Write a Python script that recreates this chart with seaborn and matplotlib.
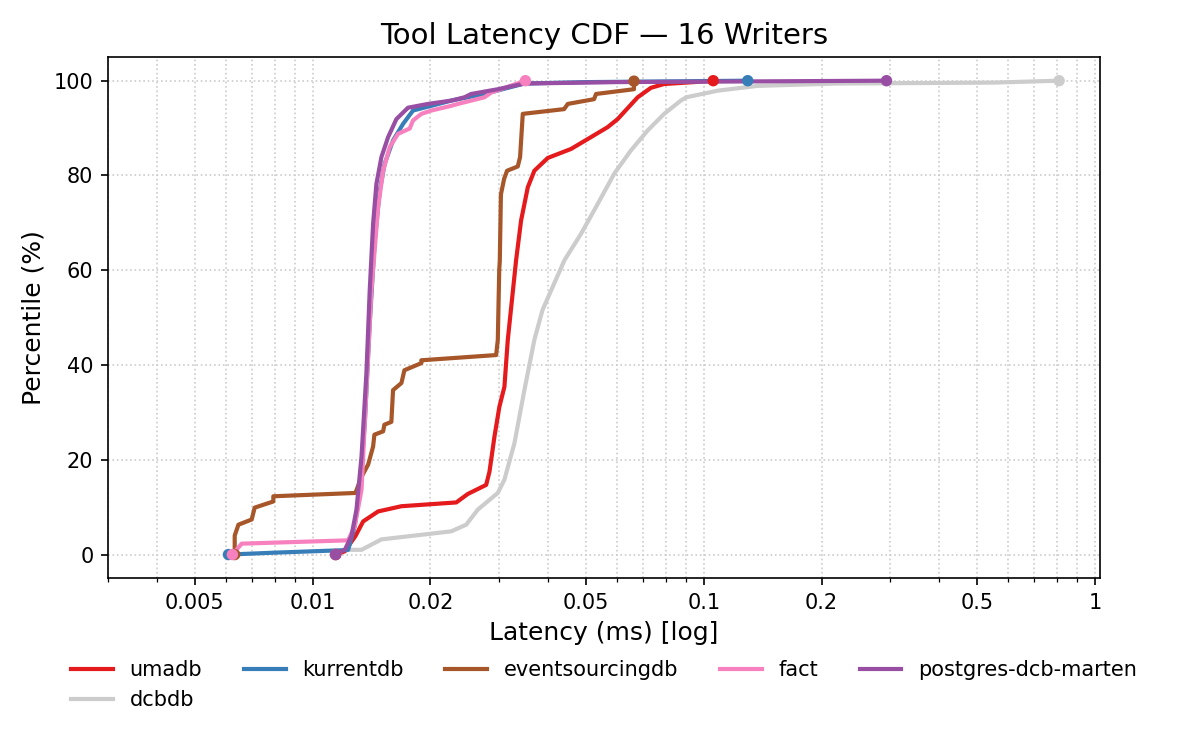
import numpy as np
import pandas as pd
import matplotlib
matplotlib.use('Agg')
import matplotlib.pyplot as plt
import matplotlib.ticker as mticker
import seaborn as sns

# latency (ms) and percentile pairs
umadb_ms = [0.01146, 0.01209, 0.01287, 0.01347, 0.01471, 0.01687, 0.02330, 0.02495, 0.02778, 0.02833,
            0.02917, 0.03003, 0.03093, 0.03155, 0.03313, 0.03412, 0.03549, 0.03689, 0.03993, 0.04579,
            0.05150, 0.05680, 0.06024, 0.06777, 0.07327, 0.07918, 0.09431, 0.1057]
umadb_pct = [0, 0.7, 3.9, 7, 9.1, 10.2, 11, 12.8, 14.7, 17.5,
             24.9, 31.2, 35.4, 45.3, 62.1, 70.5, 77.5, 81, 83.7, 85.6,
             88.1, 90.2, 91.9, 96.5, 98.5, 99.3, 99.7, 100]

kurrent_ms = [0.006095, 0.008, 0.0118, 0.01233, 0.01282, 0.01320, 0.01360, 0.01400, 0.01442, 0.01485,
              0.01529, 0.01606, 0.01704, 0.01806, 0.02012, 0.02262, 0.02750, 0.0348, 0.05, 0.1295]
kurrent_pct = [0, 0.4, 0.9, 1, 6, 13.7, 27.7, 48.8, 66.3, 76.8,
               82.5, 87.4, 90.9, 93.7, 94.7, 95.8, 97.2, 99.4, 99.7, 100]

esdb_ms = [0.006324, 0.006324, 0.006464, 0.006989, 0.007112, 0.007938, 0.007938, 0.01287, 0.01334, 0.01387,
           0.01428, 0.01439, 0.01515, 0.01526, 0.01590, 0.01606, 0.01687, 0.01717, 0.01897, 0.01897,
           0.02946, 0.02975, 0.0300, 0.0301, 0.0303, 0.03088, 0.03142, 0.03346, 0.03392, 0.03446,
           0.04395, 0.04492, 0.05242, 0.05304, 0.0663, 0.0663]
esdb_pct = [0, 4, 6.3, 7.4, 9.9, 11.2, 12.3, 13, 16.4, 19,
            22.8, 25.3, 26, 27.4, 28, 34.7, 36.2, 38.9, 40.4, 41,
            42.1, 45.3, 60, 62, 76, 79.3, 81, 81.9, 83.9, 93,
            94, 95.1, 96.1, 97.2, 98.2, 99.9]

fact_ms = [0.006238, 0.006591, 0.01233, 0.01282, 0.01334, 0.01373, 0.01414, 0.01471, 0.01515, 0.01575,
           0.01654, 0.01771, 0.01806, 0.01897, 0.02012, 0.02262, 0.02353, 0.02750, 0.02861, 0.0350]
fact_pct = [0, 2.3, 3, 6, 13.7, 34.7, 55.8, 73.3, 81, 86,
            88.8, 89.9, 91.6, 93, 93.7, 94.7, 95.1, 96.5, 97.5, 100]

marten_ms = [0.011446, 0.01209, 0.01257, 0.01295, 0.01334, 0.01373, 0.01400, 0.01428, 0.01456, 0.01500,
             0.01560, 0.01638, 0.01754, 0.01973, 0.02262, 0.02446, 0.02544, 0.02975, 0.03479, 0.06, 0.2931]
marten_pct = [0, 1, 3.9, 9.5, 20.7, 38.3, 55.8, 69.8, 78.2, 83.9,
              88.1, 91.9, 94.3, 95.1, 95.8, 96.5, 97.2, 98.2, 99.4, 99.7, 100]

dcbdb_ms = [0.01146, 0.01233, 0.01334, 0.0150, 0.02262, 0.02470, 0.02646, 0.02975, 0.03093, 0.03281,
            0.03479, 0.03689, 0.0387, 0.04403, 0.04856, 0.05357, 0.05905, 0.06515, 0.07187, 0.07918,
            0.08735, 0.09023, 0.1086, 0.1371, 0.2181, 0.5519, 0.8095]
dcbdb_pct = [0, 1, 1, 3.2, 4.9, 6.3, 9.5, 13, 15.8, 23.5,
             34.7, 45.3, 51.6, 62.1, 67.7, 74, 80.4, 85.3, 89.5, 93,
             95.8, 96.5, 97.9, 98.9, 99.4, 99.6, 100]

tools = ['umadb', 'kurrentdb', 'eventsourcingdb', 'fact', 'postgres-dcb-marten', 'dcbdb']
colors = ['#e41a1c', '#377eb8', '#a65628', '#f781bf', '#984ea3', '#cccccc']
series = {
    'umadb': (umadb_ms, umadb_pct),
    'kurrentdb': (kurrent_ms, kurrent_pct),
    'eventsourcingdb': (esdb_ms, esdb_pct),
    'fact': (fact_ms, fact_pct),
    'postgres-dcb-marten': (marten_ms, marten_pct),
    'dcbdb': (dcbdb_ms, dcbdb_pct),
}

palette = dict(zip(tools, colors))
# dcbdb goes underneath, marten dots end up on top
draw_order = ['dcbdb'] + tools[:-1]

rows = []
ends = []
for t in draw_order:
    ms, pct = series[t]
    for m, p in zip(ms, pct):
        rows.append((t, m, p))
    ends.append((t, ms[0], pct[0]))
    ends.append((t, ms[-1], pct[-1]))
df = pd.DataFrame(rows, columns=['tool', 'latency', 'pct'])
ends_df = pd.DataFrame(ends, columns=['tool', 'latency', 'pct'])

fig = plt.figure(figsize=(8, 5), dpi=150)
ax = fig.add_axes([0.09, 0.229, 0.8267, 0.695])

sns.lineplot(data=df, x='latency', y='pct', hue='tool', hue_order=draw_order, palette=palette,
             estimator=None, sort=False, linewidth=2, ax=ax)
sns.scatterplot(data=ends_df, x='latency', y='pct', hue='tool', hue_order=draw_order, palette=palette,
                s=30, linewidth=0, legend=False, zorder=5, ax=ax)

ax.set_xscale('log')
ax.set_xlim(0.003, 1.03)
ax.set_ylim(-5, 105)
ticks = [0.005, 0.01, 0.02, 0.05, 0.1, 0.2, 0.5, 1]
ax.set_xticks(ticks, ['0.005', '0.01', '0.02', '0.05', '0.1', '0.2', '0.5', '1'])
ax.xaxis.set_minor_formatter(mticker.NullFormatter())
ax.grid(which='both', linestyle=':', color='#cccccc', linewidth=0.8)
ax.set_axisbelow(True)

ax.set_title('Tool Latency CDF — 16 Writers', fontsize=14)
ax.set_xlabel('Latency (ms) [log]', fontsize=12)
ax.set_ylabel('Percentile (%)', fontsize=12)

# legend fills column by column, so put dcbdb second to land under umadb
handles, labels = ax.get_legend_handles_labels()
lookup = dict(zip(labels, handles))
leg_order = ['umadb', 'dcbdb', 'kurrentdb', 'eventsourcingdb', 'fact', 'postgres-dcb-marten']
ax.legend([lookup[t] for t in leg_order], leg_order, loc='upper center', bbox_to_anchor=(0.5, -0.121),
          ncol=5, frameon=False)

fig.savefig('out.png', dpi=150)
